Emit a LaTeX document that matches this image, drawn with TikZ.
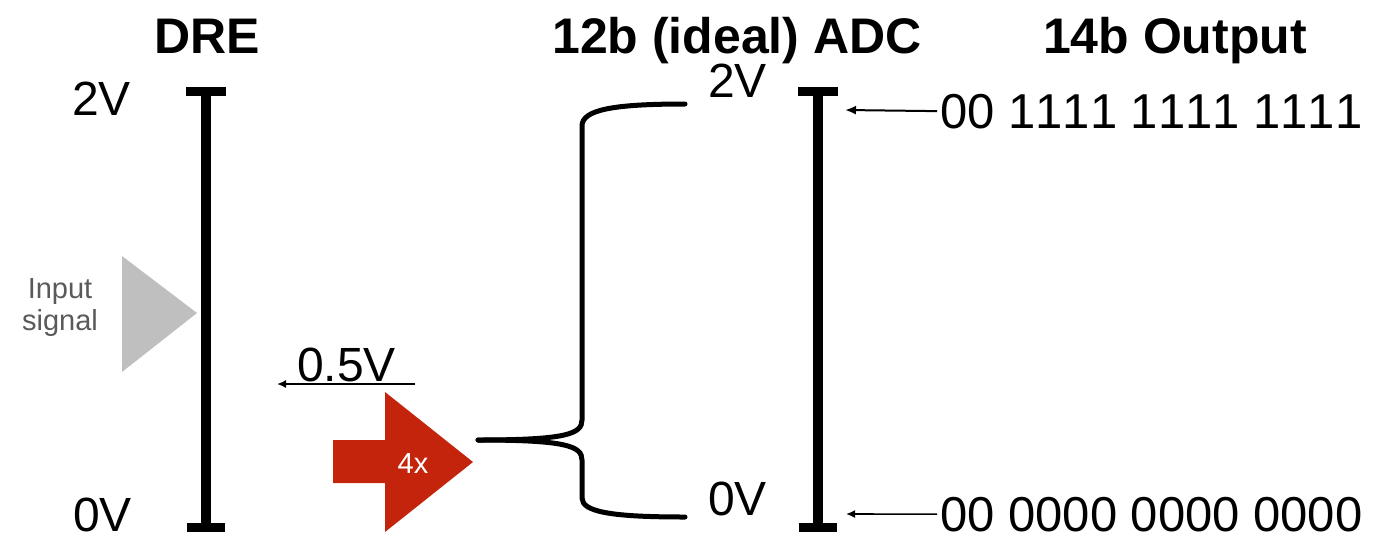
\documentclass[tikz,border=0pt]{standalone}
\usepackage{fontspec}
\setmainfont{Liberation Sans}
\usetikzlibrary{arrows.meta}
\definecolor{gainred}{RGB}{196,36,12}
\definecolor{siggrey}{RGB}{191,191,191}
\definecolor{labgrey}{RGB}{90,90,90}
\newcommand\tdig[1]{\hbox to \fontcharwd\font`0{\hfil#1\hfil}}
\tikzset{
  title/.style={font=\fontsize{50}{60}\selectfont\bfseries, anchor=base, inner sep=0pt},
  big/.style={font=\fontsize{48}{58}\selectfont, anchor=base west, inner sep=0pt},
  code/.style={font=\fontsize{49}{58}\selectfont, anchor=base west, inner sep=0pt},
  bar/.style={line width=10pt},
  barcap/.style={line width=9pt},
  brace/.style={line width=5pt, line cap=round},
  ptr/.style={line width=2pt, -{Latex[length=11pt,width=9pt]}},
  ptrthin/.style={line width=1.6pt, -{Latex[length=9pt,width=8pt]}},
}
\begin{document}
\begin{tikzpicture}[x=1pt,y=-1pt]
\useasboundingbox (0,0) rectangle (1395,539);
% titles
\node[title] (tDRE) at (207,53) {DRE};
\node[title] (tADC) at (737,53) {12b (ideal) ADC};
\node[title] (tOut) at (1175,53) {14b Output};
% DRE scale
\node[big] (dre2) at (72,115) {2V};
\node[big] (dre0) at (73,531) {0V};
\coordinate (dreTop) at (206,91);
\coordinate (dreBot) at (206,527);
\draw[bar] (dreTop) -- (dreBot);
\draw[barcap] ([xshift=-20pt]dreTop) -- ([xshift=20pt]dreTop);
\draw[barcap] ([xshift=-19pt]dreBot) -- ([xshift=19pt]dreBot);
% input signal
\fill[siggrey] (122,256) -- (197,313) -- (122,372) -- cycle;
\node[font=\fontsize{29}{32}\selectfont, text=labgrey, align=center, inner sep=0pt] (insig) at (60,308) {Input\\signal};
% 0.5V arrow
\node[big] (half) at (297,381) {0.5V};
\coordinate (halfR) at (415,384);
\coordinate (halfL) at (277,384);
\draw[ptrthin] (halfR) -- (halfL);
% red gain arrow
\fill[gainred] (333,440) -- (385,440) -- (385,392) -- (473,462) -- (385,532) -- (385,483) -- (333,483) -- cycle;
\node[font=\fontsize{29}{34}\selectfont, text=white, anchor=base, inner sep=0pt] (gain) at (413,473) {4x};
% brace
\coordinate (braceTip) at (478,440);
\coordinate (braceTop) at (685,104);
\coordinate (braceBot) at (685,517);
\draw[brace] (braceTop) .. controls (612,104) and (582,110) .. (582,126) -- (582,420)
   .. controls (582,434) and (566,440) .. (braceTip);
\draw[brace] (braceTip) .. controls (566,440) and (582,446) .. (582,460) -- (582,498)
   .. controls (582,512) and (612,517) .. (braceBot);
% ADC scale
\node[big] (adc2) at (708,97) {2V};
\node[big] (adc0) at (708,515) {0V};
\coordinate (adcTop) at (818,91);
\coordinate (adcBot) at (818,527);
\draw[bar] (adcTop) -- (adcBot);
\draw[barcap] ([xshift=-20pt]adcTop) -- ([xshift=20pt]adcTop);
\draw[barcap] ([xshift=-19pt]adcBot) -- ([xshift=19pt]adcBot);
% outputs
\node[code] (outTop) at (940,128) {00 \tdig1\tdig1\tdig1\tdig1\ \tdig1\tdig1\tdig1\tdig1\ \tdig1\tdig1\tdig1\tdig1};
\node[code] (outBot) at (940,531) {00 0000 0000 0000};
\coordinate (adcTopIn) at (845,110);
\coordinate (adcBotIn) at (846,514);
\draw[ptr] ([xshift=-3pt]outTop.west) -- (adcTopIn);
\draw[ptrthin] ([xshift=-3pt]outBot.west) -- (adcBotIn);
\end{tikzpicture}
\end{document}
